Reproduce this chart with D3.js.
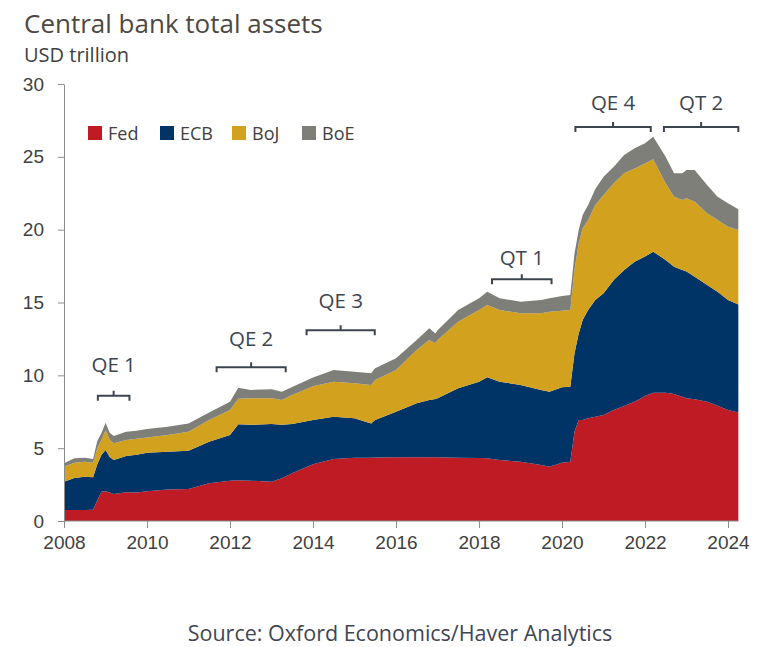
<!DOCTYPE html>
<html>
<head>
<meta charset="utf-8">
<script src="https://cdn.jsdelivr.net/npm/d3@7"></script>
<style>
  body { margin: 0; background: #fff; }
  svg { font-family: "Open Sans", "Noto Sans", sans-serif; }
  .axis text { fill: #404040; font-size: 19px; }
  .axis path, .axis line { stroke: #8c8c8c; }
</style>
</head>
<body>
<svg id="chart" width="784" height="647"></svg>
<script>
/* chart values, USD trillion */
var dates = ["2008-01-01","2008-04-01","2008-07-01","2008-09-13","2008-10-20","2008-11-25",
  "2009-01-01","2009-02-06","2009-03-14","2009-07-01","2009-10-01","2010-01-01","2010-07-01",
  "2011-01-01","2011-07-01","2012-01-01","2012-03-14","2012-07-01","2013-01-01","2013-04-01",
  "2013-07-01","2014-01-01","2014-07-01","2015-01-01","2015-05-27","2015-07-01","2016-01-01",
  "2016-07-01","2016-10-20","2016-12-13","2017-01-01","2017-07-01","2018-01-01","2018-03-14",
  "2018-07-01","2019-01-01","2019-07-01","2019-09-13","2020-01-01","2020-03-14","2020-04-20",
  "2020-05-27","2020-07-01","2020-08-18","2020-10-20","2021-01-01","2021-04-01","2021-07-01",
  "2021-10-01","2022-01-01","2022-03-14","2022-07-01","2022-09-13","2022-11-25","2023-01-01",
  "2023-03-14","2023-07-01","2023-10-01","2024-01-01","2024-04-01"];

var fed = [0.75,0.75,0.75,0.78,1.40,2.00,2.05,1.95,1.85,1.97,1.95,2.05,2.17,2.20,2.59,2.77,2.80,
  2.77,2.70,2.93,3.27,3.90,4.26,4.35,4.35,4.36,4.37,4.37,4.37,4.37,4.37,4.35,4.33,4.30,4.19,4.07,
  3.84,3.73,4.00,4.07,6.13,6.93,6.93,7.05,7.16,7.28,7.62,7.89,8.19,8.58,8.81,8.81,8.72,8.53,8.42,
  8.35,8.19,7.92,7.62,7.44];

var ecb = [1.95,2.20,2.29,2.22,2.50,2.53,2.82,2.45,2.34,2.49,2.60,2.64,2.59,2.63,2.85,3.13,3.84,
  3.83,3.96,3.67,3.39,3.03,2.90,2.70,2.35,2.57,3.13,3.71,3.93,4.01,4.05,4.76,5.23,5.56,5.37,5.27,
  5.15,5.15,5.18,5.15,5.38,5.95,6.87,7.43,8.01,8.35,8.92,9.34,9.61,9.57,9.68,9.11,8.74,8.70,8.70,
  8.42,8.01,7.82,7.55,7.43];

var boj = [1.03,1.05,1.03,1.00,1.10,1.03,1.38,1.20,1.14,1.10,1.10,1.05,1.14,1.30,1.49,1.72,1.76,
  1.82,1.76,1.70,1.99,2.32,2.40,2.40,2.64,2.75,2.87,3.66,4.13,3.82,4.01,4.57,4.92,4.97,4.92,4.92,
  5.27,5.49,5.26,5.26,5.72,6.18,6.29,6.18,6.52,6.75,6.64,6.64,6.40,6.40,6.34,5.26,4.80,4.81,5.03,
  5.15,4.92,4.92,5.03,5.11];

var boe = [0.23,0.30,0.28,0.25,0.50,0.46,0.50,0.45,0.50,0.57,0.55,0.58,0.57,0.57,0.51,0.57,0.75,
  0.58,0.62,0.57,0.55,0.60,0.81,0.80,0.80,0.80,0.80,0.69,0.80,0.68,0.67,0.80,0.81,0.91,0.81,0.80,
  0.91,0.92,1.01,1.04,1.14,0.92,0.91,1.04,1.10,1.26,1.14,1.26,1.39,1.38,1.55,1.83,1.61,1.83,1.95,
  2.18,1.95,1.60,1.61,1.42];

var banks = ["Fed", "ECB", "BoJ", "BoE"];
var colors = ["#be1b24", "#003366", "#d2a21f", "#7f7f79"];

var yTicks = [0, 5, 10, 15, 20, 25, 30];
var xTickYears = [2008, 2010, 2012, 2014, 2016, 2018, 2020, 2022, 2024];

/* programme brackets: start, end, label, bracket level and label level (USD trillion) */
var programmes = [
  {label: "QE 1", start: "2008-10-25", end: "2009-07-30", level: 8.6,  text: 10.2},
  {label: "QE 2", start: "2011-09-05", end: "2013-05-05", level: 10.55, text: 12.0},
  {label: "QE 3", start: "2013-11-05", end: "2015-06-28", level: 13.1, text: 14.6},
  {label: "QT 1", start: "2018-04-25", end: "2019-10-01", level: 16.6, text: 17.6},
  {label: "QE 4", start: "2020-04-28", end: "2022-02-20", level: 27.05, text: 28.2},
  {label: "QT 2", start: "2022-06-16", end: "2024-04-01", level: 27.05, text: 28.2}
];

var parseDate = d3.timeParse("%Y-%m-%d");

var rows = dates.map(function(d, i) {
  return {date: parseDate(d), Fed: fed[i], ECB: ecb[i], BoJ: boj[i], BoE: boe[i]};
});

var svg = d3.select("#chart");

var x = d3.scaleTime()
    .domain([new Date(2008, 0, 1), new Date(2024, 0, 1)])
    .range([64, 728]);

var y = d3.scaleLinear()
    .domain([0, 30])
    .range([521, 84]);

var series = d3.stack().keys(banks)(rows);

var area = d3.area()
    .x(function(d) { return x(d.data.date); })
    .y0(function(d) { return y(d[0]); })
    .y1(function(d) { return y(d[1]); });

svg.append("g")
  .selectAll("path")
  .data(series)
  .enter().append("path")
    .attr("fill", function(d, i) { return colors[i]; })
    .attr("d", area);

/* y axis */
svg.append("g")
    .attr("class", "axis axis--y")
    .attr("transform", "translate(64,0)")
    .call(d3.axisLeft(y).tickValues(yTicks).tickSize(6).tickSizeOuter(0).tickPadding(14));

/* x axis, its line stops where the data does */
var xAxis = svg.append("g")
    .attr("class", "axis axis--x")
    .attr("transform", "translate(0,521)")
    .call(d3.axisBottom(x)
      .tickValues(xTickYears.map(function(yr) { return new Date(yr, 0, 1); }))
      .tickFormat(d3.timeFormat("%Y"))
      .tickSize(7).tickSizeOuter(0).tickPadding(8));
xAxis.select(".domain").remove();
xAxis.append("line")
    .attr("x1", x(rows[0].date))
    .attr("x2", x(rows[rows.length - 1].date))
    .attr("stroke", "#a6a6a6");

/* programme brackets */
var ann = svg.append("g").attr("class", "programmes");
programmes.forEach(function(p) {
  var x0 = x(parseDate(p.start)), x1 = x(parseDate(p.end)), xm = (x0 + x1) / 2, yl = y(p.level);
  ann.append("path")
      .attr("d", "M" + x0 + "," + (yl + 5) + "V" + yl + "H" + x1 + "V" + (yl + 5) +
                 "M" + xm + "," + yl + "V" + (yl - 5))
      .attr("fill", "none")
      .attr("stroke", "#3c4450")
      .attr("stroke-width", 2);
  ann.append("text")
      .attr("x", xm)
      .attr("y", y(p.text))
      .attr("text-anchor", "middle")
      .attr("fill", "#3c4450")
      .style("font-size", "20.5px")
      .text(p.label);
});

/* legend */
var legendX = [88, 160, 232, 302];
var legend = svg.append("g").attr("class", "legend");
banks.forEach(function(b, i) {
  legend.append("rect")
      .attr("x", legendX[i]).attr("y", 126)
      .attr("width", 14).attr("height", 14)
      .attr("fill", colors[i]);
  legend.append("text")
      .attr("x", legendX[i] + 20).attr("y", 140)
      .attr("fill", "#404040")
      .style("font-size", "18px")
      .text(b);
});

/* titles */
svg.append("text")
    .attr("x", 24).attr("y", 33)
    .attr("fill", "#4d4843")
    .style("font-size", "26px")
    .text("Central bank total assets");

svg.append("text")
    .attr("x", 24).attr("y", 62)
    .attr("fill", "#404040")
    .style("font-size", "20px")
    .text("USD trillion");

svg.append("text")
    .attr("x", 400).attr("y", 641)
    .attr("text-anchor", "middle")
    .attr("fill", "#3f4652")
    .style("font-size", "21.5px")
    .text("Source: Oxford Economics/Haver Analytics");
</script>
</body>
</html>
